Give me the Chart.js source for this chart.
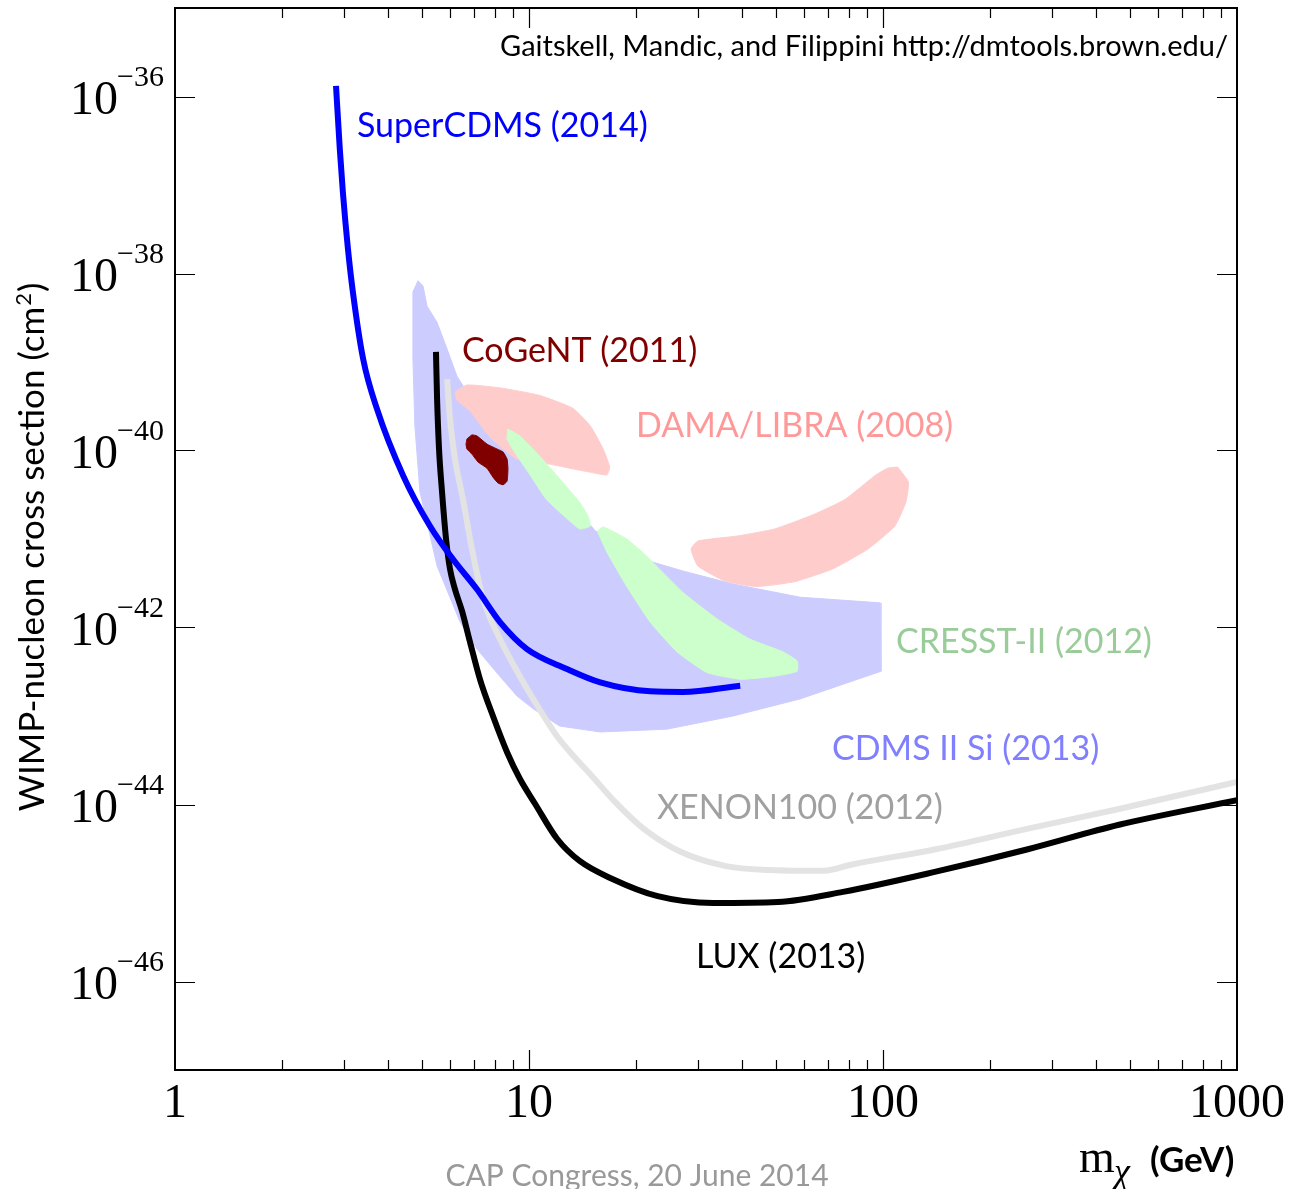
<!DOCTYPE html>
<html>
<head>
<meta charset="utf-8">
<script src="https://cdn.jsdelivr.net/npm/chart.js@4.4.0/dist/chart.umd.min.js"></script>
<style>
  html, body { margin: 0; padding: 0; background: #fff; }
  #wrap { width: 1296px; height: 1189px; position: relative; }
</style>
</head>
<body>
<div id="wrap"><canvas id="wimp"></canvas></div>
<script>
// axis ticks
const xTickLabels = [1, 10, 100, 1000];
const yTickExps = [-36, -38, -40, -42, -44, -46];

// SuperCDMS (2014) limit
const superCdmsMass = [2.85, 2.92, 2.98, 3.08, 3.18, 3.40, 3.72, 4.41, 5.25, 6.10, 7.13, 8.28, 9.87, 12.8, 15.9, 22.0, 27.2, 39.5];
const superCdmsSigma = [1.32e-36, 2.6e-37, 8.3e-38, 1.9e-38, 6.2e-39, 1.08e-39, 2.95e-40, 5.2e-41, 1.4e-41, 5.9e-42, 2.7e-42, 1.15e-42, 5.7e-43, 3.4e-43, 2.4e-43, 1.9e-43, 1.87e-43, 2.2e-43];

// LUX (2013) limit
const luxMass = [5.46, 5.50, 5.57, 5.68, 5.83, 5.98, 6.18, 6.47, 6.81, 7.27, 7.91, 8.67, 9.43, 10.4, 12.0, 13.9, 17.2, 23.1, 33.1, 50.5, 77.1, 140, 255, 464, 1000];
const luxSigma = [1.3e-39, 3.8e-40, 1.04e-40, 3.4e-41, 1.0e-41, 4.6e-42, 2.7e-42, 1.53e-42, 6.9e-43, 2.6e-43, 1.0e-43, 3.9e-44, 1.94e-44, 1.02e-44, 4.1e-45, 2.3e-45, 1.44e-45, 9.2e-46, 7.7e-46, 7.9e-46, 1.03e-45, 1.73e-45, 3.1e-45, 5.9e-45, 1.12e-44];

// XENON100 (2012) limit
const xenonMass = [5.87, 5.98, 6.18, 6.51, 6.90, 7.42, 8.28, 9.43, 10.7, 12.0, 13.3, 14.9, 17.5, 21.1, 26.9, 36.3, 48.0, 68.1, 81.7, 140, 255, 464, 1000];
const xenonSigma = [6.4e-40, 2.3e-40, 8.0e-41, 2.8e-41, 7.7e-42, 2.1e-42, 7.4e-43, 2.8e-43, 1.2e-43, 5.9e-44, 3.6e-44, 2.2e-44, 1.07e-44, 5.3e-45, 2.9e-45, 2.0e-45, 1.82e-45, 1.78e-45, 2.1e-45, 3.1e-45, 5.3e-45, 8.9e-45, 1.8e-44];

// CDMS II Si (2013) region
const cdmsSiMass = [4.86, 5.02, 5.15, 5.50, 5.87, 6.26, 6.51, 7.76, 8.84, 10.7, 12.6, 14.4, 15.4, 17.5, 21.0, 27.2, 37.7, 58.3, 98.1, 98.7, 58.3, 37.7, 24.5, 15.9, 12.2, 10.3, 9.25, 8.28, 7.13, 6.39, 5.50, 5.18, 4.92, 4.76, 4.70, 4.70, 4.86];
const cdmsSiSigma = [8.3e-39, 7.2e-39, 4.3e-39, 2.8e-39, 1.4e-39, 6.9e-40, 5.4e-40, 2.3e-40, 1.35e-40, 6.2e-41, 3.1e-41, 1.7e-41, 1.23e-41, 1.0e-41, 5.9e-42, 4.35e-42, 3.1e-42, 2.2e-42, 1.9e-42, 3.2e-43, 1.56e-43, 1.0e-43, 7.1e-44, 6.6e-44, 7.7e-44, 1.2e-43, 1.68e-43, 2.8e-43, 5.7e-43, 1.15e-42, 4.95e-42, 1.4e-41, 3.4e-41, 1.9e-40, 1.08e-39, 6.2e-39, 8.3e-39];

// DAMA/LIBRA (2008) regions
const damaLowMass = [6.18, 6.68, 8.28, 10.7, 13.3, 14.9, 16.2, 16.9, 16.6, 15.2, 13.3, 11.5, 9.25, 7.76, 6.81, 6.26, 6.18];
const damaLowSigma = [4.6e-40, 5.5e-40, 5.1e-40, 4.2e-40, 3.0e-40, 1.9e-40, 1.04e-40, 6.5e-41, 5.3e-41, 5.6e-41, 6.2e-41, 7.0e-41, 8.0e-41, 1.42e-40, 2.8e-40, 3.7e-40, 4.6e-40];
const damaHighMass = [110, 118, 116, 108, 90.7, 72.2, 56.4, 43.8, 35.8, 30.0, 28.7, 30.0, 38.7, 49.5, 63.9, 78.1, 94.9, 103, 110];
const damaHighSigma = [6.5e-41, 4.4e-41, 2.6e-41, 1.4e-41, 7.7e-42, 4.6e-42, 3.3e-42, 2.9e-42, 3.35e-42, 4.95e-42, 7.7e-42, 9.5e-42, 1.08e-41, 1.3e-41, 1.9e-41, 2.8e-41, 5.2e-41, 6.3e-41, 6.5e-41];

// CRESST-II (2012) regions
const cresstLowMass = [8.72, 9.43, 10.7, 12.2, 13.9, 14.7, 14.9, 13.9, 12.8, 11.2, 10.1, 9.25, 8.67, 8.72];
const cresstLowSigma = [1.75e-40, 1.46e-40, 8.7e-41, 4.8e-41, 2.6e-41, 1.8e-41, 1.4e-41, 1.3e-41, 1.7e-41, 2.8e-41, 5.2e-41, 8.7e-41, 1.35e-40, 1.75e-40];
const cresstHighMass = [15.6, 16.2, 18.9, 21.5, 27.2, 34.0, 42.1, 52.2, 57.2, 57.2, 48.9, 39.5, 31.8, 26.2, 22.0, 18.9, 16.6, 15.6];
const cresstHighSigma = [1.23e-41, 1.37e-41, 1.0e-41, 6.4e-42, 2.5e-42, 1.25e-42, 7.4e-43, 5.3e-43, 4.2e-43, 3.2e-43, 2.8e-43, 2.6e-43, 3.1e-43, 5.3e-43, 1.15e-42, 2.9e-42, 7.1e-42, 1.23e-41];

// CoGeNT (2011) region
const cogentMass = [6.68, 6.90, 7.13, 7.61, 8.12, 8.45, 8.67, 8.72, 8.67, 8.45, 8.17, 7.91, 7.61, 7.18, 6.90, 6.68, 6.64, 6.68];
const cogentSigma = [1.35e-40, 1.5e-40, 1.46e-40, 1.18e-40, 1.04e-40, 9.6e-41, 8.0e-41, 6.2e-41, 4.5e-41, 4.1e-41, 4.3e-41, 5.0e-41, 6.3e-41, 7.4e-41, 9.1e-41, 1.04e-40, 1.18e-40, 1.35e-40];

const toPoints = (m, s) => m.map((v, i) => ({ x: v, y: s[i] }));

function region(label, mass, sigma, color, order, tension) {
  return {
    label, data: toPoints(mass, sigma), showLine: true, fill: 'shape',
    backgroundColor: color, borderColor: color, borderWidth: 1,
    pointRadius: 0, tension: tension, order
  };
}
function limit(label, mass, sigma, color, width, order) {
  return {
    label, data: toPoints(mass, sigma), showLine: true, fill: false,
    borderColor: color, borderWidth: width, borderJoinStyle: 'round',
    pointRadius: 0, cubicInterpolationMode: 'monotone', order
  };
}

const sans = "Lato, 'Open Sans', sans-serif";
const serif = "'Liberation Serif', 'DejaVu Serif', serif";

const notes = [
  { text: 'SuperCDMS (2014)', x: 357, y: 137, color: '#0000ff' },
  { text: 'CoGeNT (2011)', x: 462, y: 362, color: '#800000' },
  { text: 'DAMA/LIBRA (2008)', x: 636, y: 437, color: '#ff9999' },
  { text: 'CRESST-II (2012)', x: 896, y: 653, color: '#99cc99' },
  { text: 'CDMS II Si (2013)', x: 832, y: 760, color: '#8080ff' },
  { text: 'XENON100 (2012)', x: 657, y: 819, color: '#a0a0a0' },
  { text: 'LUX (2013)', x: 696, y: 968, color: '#000000' }
];

const axisDecor = {
  id: 'axisDecor',
  afterDraw(chart) {
    const { ctx, chartArea: a, scales: { x, y } } = chart;
    ctx.save();
    ctx.strokeStyle = '#000';
    // minor/major ticks on top and bottom
    ctx.lineWidth = 1.2;
    for (let d = 1; d < 1000; d *= 10) {
      for (let k = 1; k <= 9; k++) {
        const v = d * k;
        if (v === 1) continue;
        const px = Math.round(x.getPixelForValue(v)) + 0.5;
        const len = k === 1 ? 20 : 10;
        ctx.beginPath();
        ctx.moveTo(px, a.bottom); ctx.lineTo(px, a.bottom - len);
        ctx.moveTo(px, a.top); ctx.lineTo(px, a.top + len);
        ctx.stroke();
      }
    }
    yTickExps.forEach(e => {
      const py = Math.round(y.getPixelForValue(Math.pow(10, e))) + 0.5;
      ctx.beginPath();
      ctx.moveTo(a.left, py); ctx.lineTo(a.left + 20, py);
      ctx.moveTo(a.right, py); ctx.lineTo(a.right - 20, py);
      ctx.stroke();
    });
    // frame
    ctx.lineWidth = 2;
    ctx.strokeRect(a.left, a.top, a.right - a.left, a.bottom - a.top);

    // tick labels
    ctx.fillStyle = '#000';
    ctx.textBaseline = 'alphabetic';
    ctx.font = '48px ' + serif;
    ctx.textAlign = 'center';
    xTickLabels.forEach(v => {
      ctx.fillText(String(v), x.getPixelForValue(v), a.bottom + 47);
    });
    yTickExps.forEach(e => {
      const py = y.getPixelForValue(Math.pow(10, e));
      ctx.font = '48px ' + serif;
      ctx.textAlign = 'right';
      ctx.fillText('10', 118, py + 17);
      ctx.font = '30px ' + serif;
      ctx.textAlign = 'left';
      ctx.fillText('\u2212' + String(-e), 117, py - 11);
    });

    // curve labels
    ctx.font = '34px ' + sans;
    ctx.textAlign = 'left';
    notes.forEach(n => {
      ctx.fillStyle = n.color;
      ctx.fillText(n.text, n.x, n.y);
    });

    // credit
    ctx.fillStyle = '#000';
    ctx.font = '29px ' + sans;
    ctx.textAlign = 'right';
    ctx.fillText('Gaitskell, Mandic, and Filippini http://dmtools.brown.edu/', 1228, 56);

    // y title
    ctx.save();
    ctx.translate(44, 548);
    ctx.rotate(-Math.PI / 2);
    ctx.font = '35px ' + sans;
    const main = 'WIMP-nucleon cross section (cm';
    const w1 = ctx.measureText(main).width;
    ctx.font = '22px ' + sans;
    const w2 = ctx.measureText('2').width;
    ctx.font = '35px ' + sans;
    const w3 = ctx.measureText(')').width;
    const sx = -(w1 + w2 + w3) / 2;
    ctx.textAlign = 'left';
    ctx.fillText(main, sx, 0);
    ctx.font = '22px ' + sans;
    ctx.fillText('2', sx + w1 + 1, -13);
    ctx.font = '35px ' + sans;
    ctx.fillText(')', sx + w1 + w2 + 2, 0);
    ctx.restore();

    // x title
    ctx.textAlign = 'left';
    ctx.font = '46px ' + serif;
    ctx.fillText('m', 1079, 1172);
    ctx.font = 'italic 36px ' + serif;
    ctx.fillText('\u03c7', 1114, 1183);
    ctx.font = 'bold 35px ' + sans;
    ctx.fillText('(GeV)', 1150, 1172);

    // footer
    ctx.fillStyle = '#999999';
    ctx.font = '30px ' + sans;
    ctx.textAlign = 'center';
    ctx.fillText('CAP Congress, 20 June 2014', 637, 1186);
    ctx.restore();
  }
};

new Chart(document.getElementById('wimp'), {
  type: 'scatter',
  data: {
    datasets: [
      limit('SuperCDMS (2014)', superCdmsMass, superCdmsSigma, '#0000ff', 6, 1),
      limit('LUX (2013)', luxMass, luxSigma, '#000000', 6, 2),
      limit('XENON100 (2012)', xenonMass, xenonSigma, '#e3e3e3', 6, 3),
      region('CoGeNT (2011)', cogentMass, cogentSigma, '#800000', 4, 0.15),
      region('CRESST-II (2012) low', cresstLowMass, cresstLowSigma, '#ccffcc', 5, 0.15),
      region('CRESST-II (2012) high', cresstHighMass, cresstHighSigma, '#ccffcc', 5, 0.15),
      region('DAMA/LIBRA (2008) low', damaLowMass, damaLowSigma, '#ffcccc', 6, 0.15),
      region('DAMA/LIBRA (2008) high', damaHighMass, damaHighSigma, '#ffcccc', 6, 0.15),
      region('CDMS II Si (2013)', cdmsSiMass, cdmsSiSigma, '#ccccff', 7, 0)
    ]
  },
  options: {
    responsive: true, maintainAspectRatio: false, animation: false,
    layout: { padding: { left: 175, top: 8, right: 59, bottom: 119 } },
    plugins: { legend: { display: false }, tooltip: { enabled: false } },
    scales: {
      x: { type: 'logarithmic', min: 1, max: 1000, display: false },
      y: { type: 'logarithmic', min: 1e-47, max: 1e-35, display: false }
    }
  },
  plugins: [axisDecor]
});
</script>
</body>
</html>
